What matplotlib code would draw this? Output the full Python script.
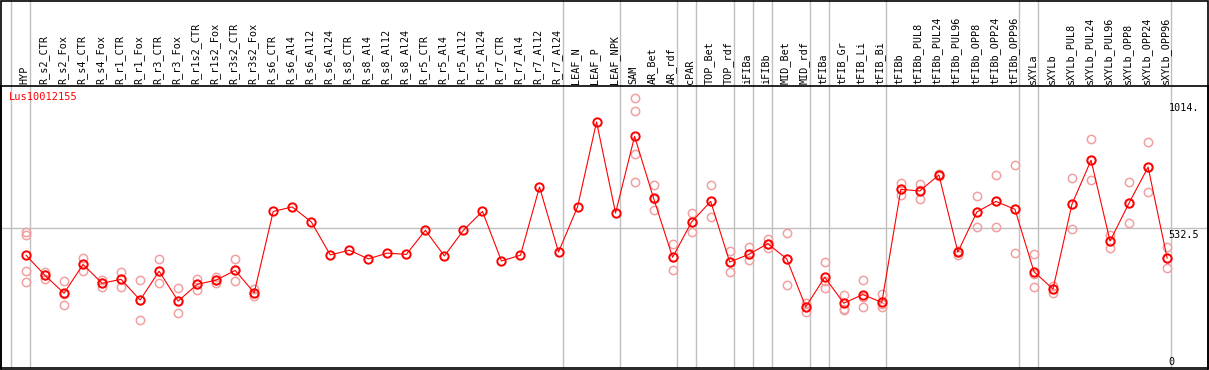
import numpy as np
import matplotlib
matplotlib.use('Agg')
from matplotlib import pyplot as plt
from matplotlib import transforms as mtrans

categories = ['HYP',
              'R_s2_CTR', 'R_s2_Fox', 'R_s4_CTR', 'R_s4_Fox', 'R_r1_CTR', 'R_r1_Fox',
              'R_r3_CTR', 'R_r3_Fox', 'R_r1s2_CTR', 'R_r1s2_Fox', 'R_r3s2_CTR', 'R_r3s2_Fox',
              'R_s6_CTR', 'R_s6_Al4', 'R_s6_Al12', 'R_s6_Al24', 'R_s8_CTR', 'R_s8_Al4',
              'R_s8_Al12', 'R_s8_Al24', 'R_r5_CTR', 'R_r5_Al4', 'R_r5_Al12', 'R_r5_Al24',
              'R_r7_CTR', 'R_r7_Al4', 'R_r7_Al12', 'R_r7_Al24',
              'LEAF_N', 'LEAF_P', 'LEAF_NPK', 'SAM', 'AR_Bet', 'AR_rdf', 'cPAR',
              'TOP_Bet', 'TOP_rdf', 'iFIBa', 'iFIBb', 'MID_Bet', 'MID_rdf',
              'tFIBa', 'tFIB_Gr', 'tFIB_Li', 'tFIB_Bi', 'tFIBb',
              'tFIBb_PUL8', 'tFIBb_PUL24', 'tFIBb_PUL96', 'tFIBb_OPP8', 'tFIBb_OPP24', 'tFIBb_OPP96',
              'sXYLa', 'sXYLb',
              'sXYLb_PUL8', 'sXYLb_PUL24', 'sXYLb_PUL96', 'sXYLb_OPP8', 'sXYLb_OPP24', 'sXYLb_OPP96']

means = [430,
         353, 285, 395, 323, 338, 259, 369, 255, 319, 335, 372, 287,
         597, 614, 557, 431, 449, 416, 438, 433, 525, 427, 525, 597,
         408, 430, 690, 442,
         614, 938, 591, 883, 647, 422, 557, 635, 404, 433, 474, 416, 233,
         346, 247, 280, 250, 681,
         675, 736, 442, 595, 635, 605,
         367, 301,
         625, 792, 484, 629, 766, 419]

replicates = [[520, 506, 370, 328],
              [367, 353, 340], [332, 283, 240], [419, 397, 369], [334, 325, 308],
              [366, 340, 308], [334, 260, 182], [414, 369, 324], [304, 255, 208],
              [340, 319, 297], [346, 335, 325], [415, 372, 330], [300, 287, 274],
              [], [], [], [], [], [], [], [], [], [], [], [], [], [], [], [],
              [], [], [],
              [1028, 980, 815, 708], [698, 645, 601], [471, 422, 374], [591, 557, 518],
              [698, 635, 576], [446, 404, 365], [461, 433, 410], [492, 474, 456],
              [515, 416, 316], [247, 233, 215],
              [404, 330, 304], [277, 226, 221], [334, 272, 231], [281, 243, 231],
              [707, 681, 658],
              [703, 677, 643], [740, 736, 732], [446, 442, 430], [654, 595, 537],
              [736, 635, 536], [774, 605, 437],
              [435, 360, 309], [313, 301, 287],
              [723, 625, 529], [872, 792, 716], [506, 484, 459], [708, 629, 553],
              [860, 766, 670], [461, 419, 380]]

# group separators sit just after these category indices
separators = [-1, 0, 28, 31, 34, 35, 37, 38, 39, 41, 42, 45, 52, 53, 60]

yticks = [0, 532.5, 1014]
yticklabels = ['0', '532.5', '1014.']
gene = 'Lus10012155'

W, H = 1209, 370
fig = plt.figure(figsize=(W / 100, H / 100), dpi=100)
ax = fig.add_axes([1 / W, 2 / H, 1207 / W, 282 / H])

x = np.arange(len(categories))
mono = 'DejaVu Sans Mono'

for i, reps in enumerate(replicates):
    if reps:
        ax.plot([i] * len(reps), reps, 'o', ms=6, mfc='none', mec='#f0a0a0', mew=1.1, zorder=2)

ax.plot(x, means, '-', color='red', lw=0.8, zorder=3)
ax.plot(x, means, 'o', ms=6, mfc='none', mec='red', mew=1.4, zorder=4)

for s in separators:
    ax.axvline(s + 0.22, ymin=0, ymax=368 / 282, color='#c0c0c0', lw=1, clip_on=False, zorder=1)
ax.axhline(532.5, color='#c0c0c0', lw=1, zorder=1)

ax.set_xlim(-1.314, 62.15)
ax.set_ylim(0, 1075)
ax.set_xticks([])
ax.set_yticks([])
for sp in ax.spines.values():
    sp.set_color('black')
    sp.set_linewidth(1.2)

# category labels above the plot
trans = mtrans.blended_transform_factory(ax.transData, fig.transFigure)
for i, name in enumerate(categories):
    ax.text(i - 0.08, (H - 84) / H, name, transform=trans, rotation=90,
            ha='center', va='bottom', fontsize=7.3, family=mono, clip_on=False)

# value labels at the right
ytrans = mtrans.blended_transform_factory(ax.transAxes, ax.transData)
for v, lab in zip(yticks, yticklabels):
    ax.text(0.9675, v + (3 if v == 0 else -5), lab, transform=ytrans,
            ha='left', va='bottom' if v == 0 else 'top', fontsize=7.3, family=mono)

ax.text(8 / 1207, 1 - 11 / 282, gene, transform=ax.transAxes, color='red',
        ha='left', va='center', fontsize=7.5, family=mono)

# outer frame of the figure
fig.add_artist(plt.Rectangle((0.5 / W, 0.5 / H), 1 - 1.5 / W, 1 - 1.5 / H,
                             transform=fig.transFigure, fill=False, ec='black', lw=1.2))

fig.savefig('out.png', dpi=100)
